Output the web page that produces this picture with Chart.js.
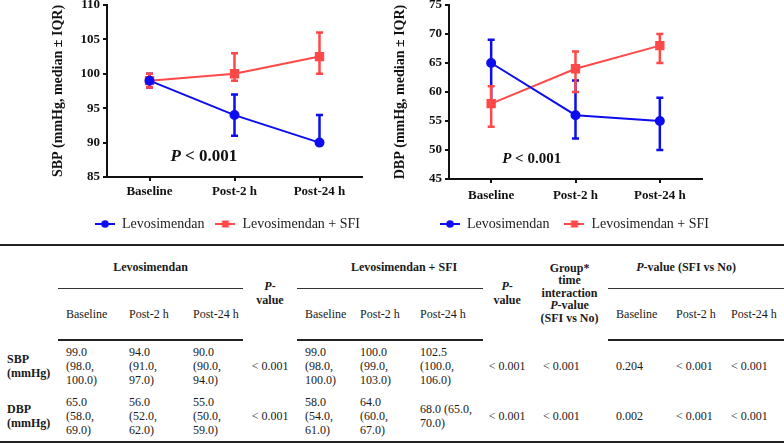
<!DOCTYPE html>
<html>
<head>
<meta charset="utf-8">
<script src="https://cdn.jsdelivr.net/npm/chart.js@4"></script>
<style>
  body { margin: 0; width: 784px; height: 443px; overflow: hidden; background: #fff; position: relative;
         font-family: 'Liberation Serif', 'Times New Roman', serif; }
  #sbp { position: absolute; left: 0; top: 0; }
  #dbp { position: absolute; left: 392px; top: 0; }
  table { position: absolute; left: 0; top: 244px; width: 784px; border-collapse: collapse; table-layout: fixed;
          font-size: 12px; line-height: 14px; color: #1a1a1a; }
  th, td { padding: 0 8px; text-align: left; vertical-align: middle; font-weight: normal; }
  .top th { border-top: 2px solid #222; font-weight: bold; text-align: center; }
  .grp { border-bottom: 1.5px solid #333; }
  .sub th, .sub td { border-bottom: 2px solid #222; white-space: nowrap; }
  tr.last td { border-bottom: 2px solid #222; }
  .c { text-align: center; }
  .lab { font-weight: bold; padding-left: 7px; }
  .gi { line-height: 12.5px; }
</style>
</head>
<body>
<canvas id="sbp" width="392" height="241"></canvas>
<canvas id="dbp" width="392" height="241"></canvas>
<table id="tbl"></table>
<script>
// time points / groups
const timepoints = ['Baseline', 'Post-2 h', 'Post-24 h'];
const groups = ['Levosimendan', 'Levosimendan + SFI'];

// SBP, median and IQR
const sbpLevo = [99, 94, 90];
const sbpLevoLo = [98, 91, 90];
const sbpLevoHi = [100, 97, 94];
const sbpSfi = [99, 100, 102.5];
const sbpSfiLo = [98, 99, 100];
const sbpSfiHi = [100, 103, 106];

// DBP, median and IQR
const dbpLevo = [65, 56, 55];
const dbpLevoLo = [58, 52, 50];
const dbpLevoHi = [69, 62, 59];
const dbpSfi = [58, 64, 68];
const dbpSfiLo = [54, 60, 65];
const dbpSfiHi = [61, 67, 70];

// p-values (rows: SBP, DBP)
const pLevo = ['< 0.001', '< 0.001'];
const pSfi = ['< 0.001', '< 0.001'];
const pInter = ['< 0.001', '< 0.001'];
const pSbpVsNo = ['0.204', '< 0.001', '< 0.001'];
const pDbpVsNo = ['0.002', '< 0.001', '< 0.001'];

const BLUE = '#0d0df0';
const RED = '#ff4848';
const INK = '#111';
Chart.defaults.font.family = "'Liberation Serif', 'Times New Roman', serif";
Chart.defaults.color = INK;

function legendIcon(color, square) {
  const c = document.createElement('canvas');
  c.width = 20; c.height = 10;
  const g = c.getContext('2d');
  g.strokeStyle = color; g.fillStyle = color; g.lineWidth = 2;
  g.beginPath(); g.moveTo(0, 5); g.lineTo(20, 5); g.stroke();
  if (square) g.fillRect(6.5, 1.5, 7, 7);
  else { g.beginPath(); g.arc(10, 5, 3.8, 0, Math.PI * 2); g.fill(); }
  return c;
}
const icons = [legendIcon(BLUE, false), legendIcon(RED, true)];

// whiskers drawn through the y scale
const errorBars = {
  id: 'errorBars',
  beforeDatasetsDraw(chart) {
    const { ctx, scales: { x, y } } = chart;
    chart.data.datasets.forEach(ds => {
      ctx.save();
      ctx.strokeStyle = ds.borderColor;
      ctx.lineWidth = 2.5;
      ds.lo.forEach((lo, j) => {
        const px = x.getPixelForValue(j);
        const y1 = y.getPixelForValue(lo), y2 = y.getPixelForValue(ds.hi[j]);
        ctx.beginPath();
        ctx.moveTo(px, y1); ctx.lineTo(px, y2);
        ctx.moveTo(px - 3.5, y1); ctx.lineTo(px + 3.5, y1);
        ctx.moveTo(px - 3.5, y2); ctx.lineTo(px + 3.5, y2);
        ctx.stroke();
      });
      ctx.restore();
    });
  }
};

// "P < 0.001" note, placed on the data scales
const pNote = {
  id: 'pNote',
  afterDraw(chart, args, opts) {
    const { ctx, scales: { x, y } } = chart;
    const px = x.getPixelForValue(opts.at[0]), py = y.getPixelForValue(opts.at[1]);
    ctx.save();
    ctx.fillStyle = INK;
    ctx.textBaseline = 'middle';
    const f = Chart.defaults.font.family;
    ctx.font = 'italic bold ' + opts.size + 'px ' + f;
    const wP = ctx.measureText('P').width;
    ctx.font = 'bold ' + opts.size + 'px ' + f;
    const rest = ' < 0.001';
    const w = wP + ctx.measureText(rest).width;
    ctx.fillText(rest, px - w / 2 + wP, py);
    ctx.font = 'italic bold ' + opts.size + 'px ' + f;
    ctx.fillText('P', px - w / 2, py);
    ctx.restore();
  }
};

// nudge the legend row sideways under the plot
const legendShift = {
  id: 'legendShift',
  afterLayout(chart, args, opts) {
    const l = chart.legend, c = chart.chartArea;
    l.left = c.left + opts.from;
    l.right = c.right + opts.to;
    l.width = l.right - l.left;
  }
};

function makeChart(id, title, levo, levoLo, levoHi, sfi, sfiLo, sfiHi, yMin, yMax, pad, xHeight, tickPad, noteAt, noteSize, legPad, shift) {
  new Chart(document.getElementById(id), {
    type: 'line',
    data: {
      labels: timepoints,
      datasets: [
        { label: groups[0], data: levo, lo: levoLo, hi: levoHi, borderColor: BLUE, backgroundColor: BLUE,
          borderWidth: 2, pointStyle: 'circle', pointRadius: 4, pointHoverRadius: 4 },
        { label: groups[1], data: sfi, lo: sfiLo, hi: sfiHi, borderColor: RED, backgroundColor: RED,
          borderWidth: 2, pointStyle: 'rect', pointRadius: 5.2, pointHoverRadius: 5.2 }
      ]
    },
    options: {
      responsive: false,
      animation: false,
      layout: { padding: pad, autoPadding: false },
      plugins: {
        tooltip: { enabled: false },
        pNote: { at: noteAt, size: noteSize },
        legendShift: shift,
        legend: {
          position: 'bottom',
          labels: {
            usePointStyle: true,
            pointStyleWidth: 20,
            padding: legPad,
            color: '#222',
            font: { size: 14 },
            generateLabels(chart) {
              const items = Chart.defaults.plugins.legend.labels.generateLabels(chart);
              items.forEach((it, i) => { it.pointStyle = icons[i]; });
              return items;
            }
          }
        }
      },
      scales: {
        x: {
          offset: true,
          grid: { offset: false, drawOnChartArea: false, tickLength: 4, color: INK, lineWidth: 2 },
          border: { color: INK, width: 2 },
          ticks: { color: INK, font: { size: 13, weight: 'bold' }, padding: tickPad },
          afterFit(s) { s.height = xHeight; s.paddingLeft = 0; s.paddingRight = 0; }
        },
        y: {
          min: yMin, max: yMax,
          ticks: { stepSize: 5, color: INK, font: { size: 13, weight: 'bold' }, padding: 3 },
          grid: { drawOnChartArea: false, tickLength: 4, color: INK, lineWidth: 2 },
          border: { color: INK, width: 2 },
          title: { display: true, text: title, color: INK, font: { size: 14, weight: 'bold' }, padding: 0 },
          afterFit(s) { s.width = 57; s.paddingTop = 0; s.paddingBottom = 0; }
        }
      }
    },
    plugins: [errorBars, pNote, legendShift]
  });
}

makeChart('sbp', 'SBP (mmHg, median ± IQR)', sbpLevo, sbpLevoLo, sbpLevoHi, sbpSfi, sbpSfiLo, sbpSfiHi,
  85, 110, { left: 50, right: 30, top: 5, bottom: 0 }, 29, 3, [0.64, 87.9], 17, 11, { from: -44, to: 30 });
makeChart('dbp', 'DBP (mmHg, median ± IQR)', dbpLevo, dbpLevoLo, dbpLevoHi, dbpSfi, dbpSfiLo, dbpSfiHi,
  45, 75, { left: 0, right: 82, top: 5, bottom: 0 }, 23, 5, [0.48, 48.5], 15, 15, { from: -84, to: 82 });

// table
const fmt = (m, lo, hi) => m.toFixed(1) + ' (' + lo.toFixed(1) + ', ' + hi.toFixed(1) + ')';
const esc = s => s.replace('<', '&lt;');
const widths = [58, 63, 64, 58, 54, 55, 60, 71, 48, 77, 60, 55, 61];
const pv = '<i>P</i>-<br>value';
let html = '<colgroup>' + widths.map(w => '<col style="width:' + w + 'px">').join('') + '</colgroup>';
html += '<tr class="top" style="height:43px"><th rowspan="2" class="sub"></th>' +
  '<th colspan="3" class="grp">' + groups[0] + '</th>' +
  '<th rowspan="2" class="sub c" style="padding:0">' + pv + '</th>' +
  '<th colspan="3" class="grp" style="padding-left:36px">' + groups[1] + '</th>' +
  '<th rowspan="2" class="sub c" style="padding:0">' + pv + '</th>' +
  '<th rowspan="2" class="sub c gi" style="padding:0">Group*<br>time<br>interaction<br><i>P</i>-value<br>(SFI vs No)</th>' +
  '<th colspan="3" class="grp" style="padding-right:28px"><i>P</i>-value (SFI vs No)</th></tr>';
const subRow = timepoints.map(t => '<th>' + t + '</th>').join('');
html += '<tr class="sub" style="height:52px">' + subRow + subRow + subRow + '</tr>';

function bodyRow(label, lv, lvLo, lvHi, sf, sfLo, sfHi, r, vsNo, last) {
  let s = '<tr' + (last ? ' class="last"' : '') + ' style="height:51px"><td class="lab">' + label + '<br>(mmHg)</td>';
  for (let i = 0; i < 3; i++) s += '<td>' + fmt(lv[i], lvLo[i], lvHi[i]) + '</td>';
  s += '<td class="c" style="padding:0">' + esc(pLevo[r]) + '</td>';
  for (let i = 0; i < 3; i++) s += '<td>' + fmt(sf[i], sfLo[i], sfHi[i]) + '</td>';
  s += '<td class="c" style="padding:0">' + esc(pSfi[r]) + '</td>';
  s += '<td style="padding-left:12px">' + esc(pInter[r]) + '</td>';
  vsNo.forEach(p => { s += '<td>' + esc(p) + '</td>'; });
  return s + '</tr>';
}
html += bodyRow('SBP', sbpLevo, sbpLevoLo, sbpLevoHi, sbpSfi, sbpSfiLo, sbpSfiHi, 0, pSbpVsNo, false);
html += bodyRow('DBP', dbpLevo, dbpLevoLo, dbpLevoHi, dbpSfi, dbpSfiLo, dbpSfiHi, 1, pDbpVsNo, true);
document.getElementById('tbl').innerHTML = html;
</script>
</body>
</html>
